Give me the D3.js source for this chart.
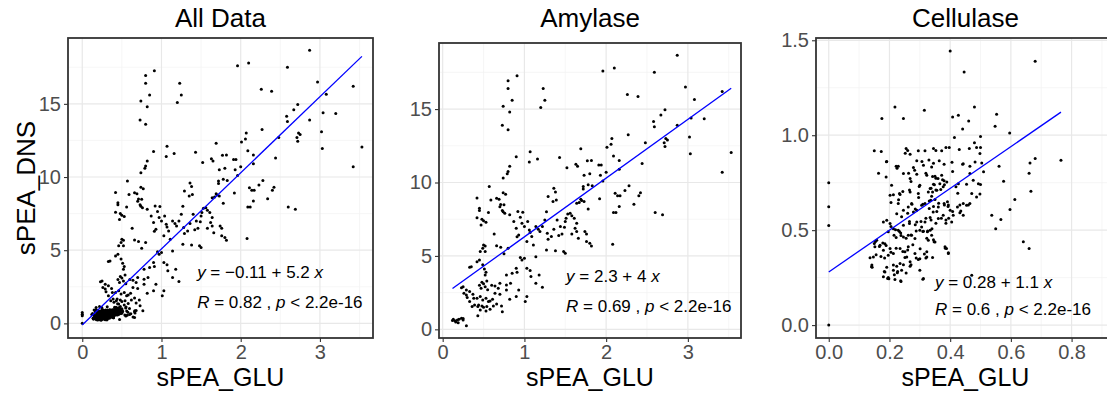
<!DOCTYPE html>
<html><head><meta charset="utf-8">
<script src="https://cdn.jsdelivr.net/npm/d3@7"></script>
<style>body{margin:0;background:#fff;} svg{display:block;font-family:"Liberation Sans",Arial,sans-serif;}</style>
</head><body><svg id="c" width="1107" height="394"></svg>
<script>
// ---------------- data ----------------
const panelTitles = ["All Data", "Amylase", "Cellulase"];
const xAxisTitle = "sPEA_GLU";
const yAxisTitle = "sPEA_DNS";
const xTicksAmylase = [0, 1, 2, 3];
const yTicksAmylase = [0, 5, 10, 15];
const xTicksCellulase = [0, 0.2, 0.4, 0.6, 0.8];
const yTicksCellulase = [0, 0.5, 1.0, 1.5];
const fitIntercept = [-0.11, 2.3, 0.28];
const fitSlope = [5.2, 4, 1.1];
const interceptLabels = ["\u22120.11", "2.3", "0.28"];
const slopeLabels = ["5.2", "4", "1.1"];
const rLabels = ["0.82", "0.69", "0.6"];
const pLabels = ["2.2e-16", "2.2e-16", "2.2e-16"];

const amylasePoints = [
[2.87,18.66],[1.96,17.6],[2.10,17.8],[2.59,17.5],[0.91,17.27],[0.80,16.93],[0.80,16.4],[0.85,15.6],[0.74,15.2],[0.82,14.8],[0.73,13.9],[0.80,13.6],[1.23,16.4],[1.25,15.6],[1.20,15.1],[2.26,16.0],[2.39,15.86],[2.97,16.5],[3.08,15.66],[3.42,16.2],[3.20,14.34],[3.04,14.4],[2.87,13.9],[2.58,14.16],[2.59,13.8],[2.67,14.6],[2.72,14.95],[2.73,13.0],[2.75,12.9],[2.71,12.7],[2.72,12.45],[3.02,13.1],[3.03,11.95],[3.53,12.05],[3.42,10.7],[2.27,13.25],[2.44,11.3],[2.48,12.7],
[2.07,13.0],[2.06,12.6],[2.01,12.4],[2.09,11.8],[2.16,11.5],[1.69,12.3],[1.07,12.1],[1.06,11.4],[1.16,11.6],[1.43,11.7],[0.90,11.75],[1.63,11.25],[1.65,11.1],[1.82,11.5],[1.77,11.48],[1.91,11.2],[1.94,11.2],[1.73,10.5],[1.80,10.6],[1.93,10.5],[2.00,10.7],[1.96,10.1],[1.92,8.9],[0.82,11.1],[0.80,10.75],[0.79,10.6],[0.74,10.3],[2.16,10.9],[2.11,9.27],[2.14,9.1],[2.17,9.1],[2.09,7.95],[2.12,7.95],[2.16,8.36],[2.23,9.45],[2.28,9.77],[2.34,8.52],[2.42,9.3],[2.40,9.1],[2.08,5.8],[2.60,7.95],[2.69,7.8],[1.78,9.84],[1.72,9.73],[1.83,9.77],[1.72,9.55],[1.69,8.86],[1.73,8.7],[1.78,8.2],[1.52,11.0],[1.36,9.6],[1.38,9.35],[1.29,9.05],[1.35,8.7],[1.39,8.8],
[0.57,9.73],[0.42,8.95],[0.45,8.25],[0.42,7.6],[0.45,8.1],[0.48,7.5],[0.50,7.39],[0.53,7.3],[0.47,7.1],[0.56,7.95],[0.59,8.8],[0.66,8.93],[0.69,8.86],[0.71,8.5],[0.70,8.34],[0.73,8.1],[0.74,9.3],[0.77,9.2],[0.75,8.48],[0.74,8.0],[0.76,7.9],[0.63,6.5],[0.66,5.7],[0.50,5.75],[0.52,5.68],[0.49,5.52],[0.46,5.3],[0.52,5.3],[0.35,4.27],[0.33,4.23],[0.45,4.73],[0.49,4.39],[0.51,4.11],[0.53,3.89],[0.52,3.7],
[0.29,2.68],[0.29,2.34],[0.33,2.57],[0.37,2.39],[0.38,2.11],[0.42,2.11],[0.46,2.23],[0.49,2.0],[0.53,2.11],[0.56,1.89],[0.44,1.66],[0.48,1.59],[0.54,1.55],[0.58,1.36],[0.62,1.59],[0.66,1.73],[0.72,1.59],[0.73,1.2],[0.68,2.8],[0.64,2.95],[0.70,3.14],[0.78,3.02],[0.83,3.14],[0.78,3.7],[0.85,3.82],[0.91,3.89],[0.90,4.16],[0.97,4.73],[1.00,4.84],[0.95,4.9],[1.03,4.16],[1.07,4.0],[1.08,3.6],[1.14,3.14],[1.18,3.7],[1.22,2.86],[1.03,2.23],[1.01,1.89],[0.90,2.23],[0.82,2.05],[0.78,2.68],[0.70,2.39],[0.93,2.68],[0.75,5.14],[0.80,5.52],[0.71,5.59],[0.91,6.3],[0.93,6.43],[0.90,6.89],[0.87,7.34],[0.82,7.8],[0.92,8.02],[0.98,7.98],[0.95,7.64],[0.97,7.23],[1.00,7.0],[1.04,7.34],[1.06,6.77],[1.07,6.59],[1.09,6.32],[1.03,5.98],[1.14,4.95],[1.11,5.75],[1.17,6.82],[1.14,7.0],[1.19,6.66],[1.22,7.0],[1.25,7.45],[1.27,8.0],[1.28,6.55],[1.29,6.14],[1.33,6.32],[1.36,6.82],[1.40,7.45],[1.44,7.0],[1.42,6.39],[1.46,6.5],[1.49,6.95],[1.50,7.34],[1.51,7.57],[1.53,7.86],[1.56,7.9],[1.58,7.73],[1.61,7.57],[1.64,7.23],[1.62,6.89],[1.58,6.5],[1.64,6.66],[1.66,6.2],[1.74,6.66],[1.76,6.5],[1.76,5.98],[1.80,5.86],[1.82,5.68],[1.48,5.3],[1.50,5.18],[1.38,5.36],[1.27,5.41],[1.64,8.59],[1.67,8.64],[1.70,8.77],
[0.13,0.68],[0.15,0.59],[0.18,0.64],[0.20,0.68],[0.23,0.75],[0.16,0.5],[0.19,0.45],[0.25,0.73],[0.29,0.25],[0.25,0.64],[0.43,0.93],[0.12,0.6],
[0.23,2.84],[0.25,2.9],[0.26,2.45],[0.30,2.16],[0.33,1.89],[0.36,1.55],[0.39,1.66],[0.43,1.55],[0.46,1.32],[0.50,1.5],[0.53,1.25],[0.58,1.93],[0.61,2.05],[0.64,2.45],[0.42,4.6],
[0.45,3.0],[0.47,2.8],[0.50,3.1],[0.52,2.9],[0.55,2.7],[0.48,3.2],[0.54,3.3],[0.60,3.0]
];

const cellulasePoints = [
[0.40,1.444],[0.68,1.39],[0.446,1.333],[0.218,1.149],[0.315,1.132],[0.48,1.149],[0.175,1.088],[0.246,1.088],[0.408,1.096],[0.427,1.105],[0.553,1.11],[0.461,1.075],[0.548,1.047],[0.441,1.033],[0.596,1.012],[0.48,0.96],[0.50,0.993],[0.414,0.988],[0.765,0.868],[0.68,0.877],[0.663,0.854],[0.66,0.80],[0.666,0.705],[0.613,0.661],[0.597,0.609],[0.561,0.837],[0.576,0.758],[0.537,0.579],[0.567,0.556],[0.55,0.507],[0.641,0.439],[0.66,0.404],[0,0.749],[0,0.623],[0,0.525],[0,0],
[0.15,0.918],[0.19,0.86],[0.164,0.80],[0.255,0.93],[0.26,0.92],[0.268,0.90],[0.295,0.918],[0.317,0.918],[0.345,0.93],[0.353,0.92],[0.372,0.918],[0.386,0.935],[0.397,0.935],[0.43,0.925],[0.463,0.93],[0.487,0.935],[0.50,0.935],
[0.498,0.904],[0.504,0.854],[0.51,0.807],[0.50,0.74],[0.498,0.69],[0.487,0.675],[0.471,0.693],[0.46,0.632],[0.443,0.64],[0.432,0.591],[0.41,0.579],[0.394,0.632],[0.386,0.553],[0.383,0.412],[0.394,0.381],[0.347,0.439],[0.323,0.386],[0.295,0.346],[0.268,0.333],[0.251,0.356],[0.237,0.233],[0.194,0.246],[0.191,0.304],[0.213,0.316],[0.226,0.275],[0.31,0.242],[0.471,0.263],[0.15,0.43],[0.142,0.316],[0.136,0.354],
[0.207,0.737],[0.202,0.684],[0.205,0.646],[0.189,0.78],[0.235,0.688],[0.229,0.64],[0.229,0.837],
[0.222,0.836],[0.279,0.83],[0.312,0.842],[0.339,0.833],[0.443,0.85],[0.465,0.836],[0.482,0.859],[0.246,0.798],[0.268,0.772],[0.29,0.794],[0.323,0.789],[0.35,0.784],[0.36,0.772],[0.372,0.789],[0.38,0.76],[0.366,0.745],[0.345,0.742],[0.334,0.719],[0.328,0.701],[0.342,0.701],[0.356,0.71],[0.369,0.714],[0.377,0.728],[0.339,0.679],[0.35,0.661],[0.336,0.657],[0.465,0.798],[0.476,0.763],[0.493,0.745],[0.454,0.742],[0.419,0.728],[0.233,0.693],[0.268,0.701],[0.30,0.736],[0.295,0.693],[0.273,0.64],[0.262,0.622],[0.246,0.605],[0.224,0.587],[0.24,0.57],[0.279,0.596],[0.29,0.605],[0.306,0.631],[0.317,0.64],[0.331,0.614],[0.344,0.596],[0.361,0.622],[0.38,0.64],[0.391,0.649],[0.40,0.605],[0.377,0.578],[0.361,0.561],[0.334,0.566],[0.317,0.543],[0.306,0.517],[0.29,0.543],[0.266,0.535],[0.246,0.526],[0.229,0.50],[0.213,0.508],[0.196,0.491],[0.18,0.543],[0.191,0.552],[0.202,0.535],[0.215,0.473],[0.237,0.485],[0.246,0.464],[0.262,0.473],[0.273,0.473],[0.284,0.456],[0.30,0.50],[0.312,0.494],[0.325,0.491],[0.334,0.50],[0.339,0.473],[0.328,0.447],[0.35,0.438],[0.405,0.543],[0.424,0.622],[0.435,0.601],[0.454,0.631],[0.465,0.64],[0.443,0.578],[0.158,0.447],[0.169,0.421],[0.185,0.429],[0.18,0.394],[0.202,0.403],[0.196,0.368],[0.213,0.377],[0.152,0.412],[0.147,0.359],[0.235,0.403],[0.262,0.412],[0.251,0.386],[0.257,0.359],[0.284,0.377],[0.30,0.35],[0.323,0.359],[0.388,0.403],[0.394,0.377],[0.235,0.324],[0.224,0.31],[0.24,0.289],[0.213,0.289],[0.185,0.28],[0.18,0.254],[0.196,0.25],[0.268,0.31],[0.30,0.289],[0.218,0.24],[0.312,0.245],[0.141,0.307],
[0.252,0.905],[0.29,0.865],[0.307,0.861],[0.33,0.87],[0.345,0.853],[0.364,0.865],[0.38,0.847],[0.406,0.858],[0.225,0.826],[0.263,0.80],[0.283,0.816],[0.32,0.80],[0.342,0.782],[0.353,0.774],[0.375,0.765],[0.348,0.739],[0.337,0.721],[0.353,0.712],[0.381,0.739],[0.389,0.753],[0.298,0.73],[0.271,0.756],[0.266,0.712],[0.244,0.704],[0.213,0.686],[0.23,0.66],[0.26,0.589],[0.274,0.637],[0.285,0.612],[0.296,0.672],[0.31,0.637],[0.331,0.654],[0.345,0.625],[0.356,0.598],[0.362,0.642],[0.381,0.633],[0.393,0.625],[0.408,0.598],[0.395,0.563],[0.371,0.563],[0.353,0.537],[0.337,0.554],[0.32,0.563],[0.304,0.546],[0.285,0.528],[0.266,0.546],[0.233,0.493],[0.22,0.502],[0.205,0.519],[0.222,0.461],[0.238,0.472],[0.255,0.458],[0.271,0.475],[0.288,0.496],[0.31,0.493],[0.326,0.496],[0.34,0.507],[0.323,0.458],[0.345,0.449],[0.301,0.402],[0.315,0.374],[0.342,0.356],[0.384,0.405],[0.277,0.423],[0.26,0.396],[0.244,0.388],[0.222,0.405],[0.205,0.384],[0.189,0.419],[0.178,0.432],[0.167,0.414],[0.154,0.44],[0.156,0.37],[0.172,0.361],[0.184,0.353],[0.143,0.304],[0.183,0.282],[0.198,0.244],[0.216,0.265],[0.227,0.282],[0.246,0.318],[0.271,0.318],[0.255,0.274],[0.238,0.23],[0.288,0.353],[0.32,0.353],[0.386,0.537],[0.425,0.695],[0.432,0.633],[0.427,0.744],[0.441,0.847],[0.408,0.809],[0.173,0.914],[0.191,0.861]
];

const allDataPoints = amylasePoints.concat(cellulasePoints);
const panelPoints = [allDataPoints, amylasePoints, cellulasePoints];

// ---------------- layout ----------------
const layout = [
  {left: 68, right: 373, top: 38, bottom: 338, xDom: [-0.18, 3.67], yDom: [-1.0, 19.5],
   xt: xTicksAmylase, yt: yTicksAmylase, fmt: d3.format("d"), eq: [1.45, 3.1], rr: [1.45, 1.05], ylab: true},
  {left: 439, right: 741, top: 43, bottom: 338, xDom: [-0.045, 3.65], yDom: [-0.59, 19.5],
   xt: xTicksAmylase, yt: yTicksAmylase, fmt: d3.format("d"), eq: [1.51, 3.24], rr: [1.51, 1.2], ylab: false},
  {left: 816, right: 1115, top: 38, bottom: 338, xDom: [-0.042, 0.943], yDom: [-0.068, 1.512],
   xt: xTicksCellulase, yt: yTicksCellulase, fmt: d3.format(".1f"), eq: [0.35, 0.193], rr: [0.35, 0.053], ylab: false}
];

const svg = d3.select("#c");
svg.append("rect").attr("width", 1107).attr("height", 394).attr("fill", "#fff");

function minorsOf(ticks, dom) {
  const step = ticks[1] - ticks[0];
  const arr = [ticks[0] - step / 2].concat(ticks.map(v => v + step / 2));
  return arr.filter(v => v > dom[0] && v < dom[1]);
}

layout.forEach((L, i) => {
  const x = d3.scaleLinear().domain(L.xDom).range([L.left, L.right]);
  const y = d3.scaleLinear().domain(L.yDom).range([L.bottom, L.top]);
  const g = svg.append("g");
  const clipId = "clip" + i;
  g.append("clipPath").attr("id", clipId).append("rect")
    .attr("x", L.left).attr("y", L.top).attr("width", L.right - L.left).attr("height", L.bottom - L.top);
  const inner = g.append("g").attr("clip-path", `url(#${clipId})`);

  // minor grid
  minorsOf(L.xt, L.xDom).forEach(v => inner.append("line").attr("x1", x(v)).attr("x2", x(v)).attr("y1", L.top).attr("y2", L.bottom).attr("stroke", "#f2f2f2").attr("stroke-width", 0.7));
  minorsOf(L.yt, L.yDom).forEach(v => inner.append("line").attr("y1", y(v)).attr("y2", y(v)).attr("x1", L.left).attr("x2", L.right).attr("stroke", "#f2f2f2").attr("stroke-width", 0.7));
  // major grid
  L.xt.forEach(v => inner.append("line").attr("x1", x(v)).attr("x2", x(v)).attr("y1", L.top).attr("y2", L.bottom).attr("stroke", "#e8e8e8").attr("stroke-width", 1.2));
  L.yt.forEach(v => inner.append("line").attr("y1", y(v)).attr("y2", y(v)).attr("x1", L.left).attr("x2", L.right).attr("stroke", "#e8e8e8").attr("stroke-width", 1.2));

  // points
  const pts = panelPoints[i];
  inner.selectAll("circle.pt").data(pts).enter().append("circle")
    .attr("class", "pt").attr("cx", d => x(d[0])).attr("cy", d => y(d[1])).attr("r", 1.5).attr("fill", "#000");

  // regression line
  const ext = d3.extent(pts, d => d[0]);
  const lineData = ext.map(v => [v, fitIntercept[i] + fitSlope[i] * v]);
  inner.append("path").datum(lineData)
    .attr("d", d3.line().x(d => x(d[0])).y(d => y(d[1])))
    .attr("stroke", "#0000ff").attr("stroke-width", 1.3).attr("fill", "none");

  // annotations
  const t1 = g.append("text").attr("x", x(L.eq[0])).attr("y", y(L.eq[1])).attr("font-size", 17).attr("fill", "#000");
  t1.append("tspan").attr("font-style", "italic").text("y");
  t1.append("tspan").text(" = " + interceptLabels[i] + " + " + slopeLabels[i] + " ");
  t1.append("tspan").attr("font-style", "italic").text("x");
  const t2 = g.append("text").attr("x", x(L.rr[0])).attr("y", y(L.rr[1])).attr("font-size", 17).attr("fill", "#000");
  t2.append("tspan").attr("font-style", "italic").text("R");
  t2.append("tspan").text(" = " + rLabels[i] + " , ");
  t2.append("tspan").attr("font-style", "italic").text("p");
  t2.append("tspan").text(" < " + pLabels[i]);

  // border
  g.append("rect").attr("x", L.left).attr("y", L.top).attr("width", L.right - L.left).attr("height", L.bottom - L.top)
    .attr("fill", "none").attr("stroke", "#333").attr("stroke-width", 1.8);

  // axes
  const xa = g.append("g").attr("transform", `translate(0,${L.bottom})`)
    .call(d3.axisBottom(x).tickValues(L.xt).tickFormat(L.fmt).tickSize(4).tickPadding(3));
  const ya = g.append("g").attr("transform", `translate(${L.left},0)`)
    .call(d3.axisLeft(y).tickValues(L.yt).tickFormat(L.fmt).tickSize(4).tickPadding(3));
  [xa, ya].forEach(a => {
    a.select(".domain").remove();
    a.selectAll(".tick line").attr("stroke", "#333").attr("stroke-width", 1.1);
    a.selectAll(".tick text").attr("fill", "#4d4d4d").attr("font-size", 20)
      .attr("font-family", '"Liberation Sans",Arial,sans-serif');
  });
  xa.selectAll(".tick text").attr("dy", "0.68em");

  // titles
  const cx = (L.left + L.right) / 2;
  g.append("text").attr("x", cx).attr("y", 27).attr("text-anchor", "middle").attr("font-size", 26).attr("fill", "#000").text(panelTitles[i]);
  g.append("text").attr("x", cx).attr("y", 385.5).attr("text-anchor", "middle").attr("font-size", 25).attr("fill", "#000").text(xAxisTitle);
  if (L.ylab) {
    g.append("text").attr("transform", `translate(35,${(L.top + L.bottom) / 2}) rotate(-90)`)
      .attr("text-anchor", "middle").attr("font-size", 26).attr("fill", "#000").text(yAxisTitle);
  }
});
</script></body></html>
